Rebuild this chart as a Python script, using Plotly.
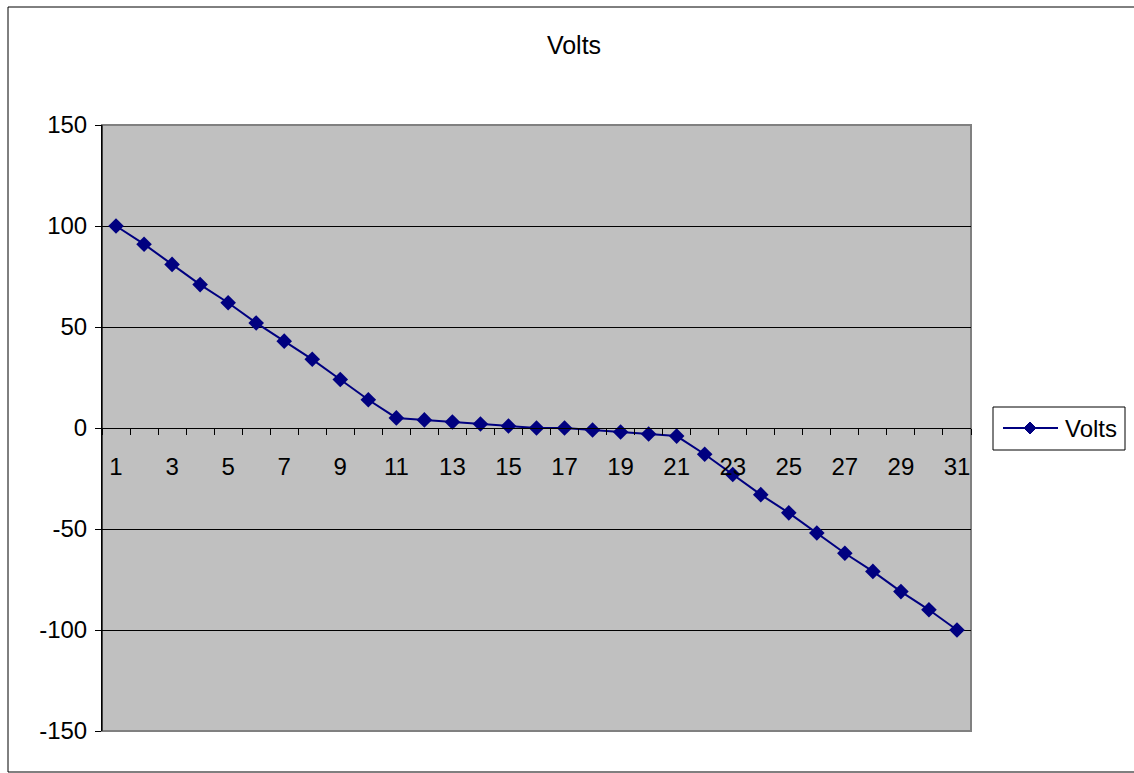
import plotly.graph_objects as go

categories = list(range(1, 32))
volts = [100, 91, 81, 71, 62, 52, 43, 34, 24, 14, 5, 4, 3, 2, 1, 0, 0, -1, -2, -3, -4,
         -13, -23, -33, -42, -52, -62, -71, -81, -90, -100]
x_tick_vals = [c for c in categories if c % 2 == 1]
x_tick_labels = [str(c) for c in x_tick_vals]
y_ticks = [-150, -100, -50, 0, 50, 100, 150]
y_tick_labels = ["-150", "-100", "-50", "0", "50", "100", "150"]
series_name = "Volts"

W, H = 1134, 773
L, R, T, B = 102, 163, 125, 42
pw, ph = W - L - R, H - T - B

FONT = "Liberation Sans, Arial, sans-serif"
NAVY = "#000080"

fig = go.Figure()
fig.add_trace(go.Scatter(
    x=categories, y=volts, mode="lines+markers", name=series_name,
    line=dict(color=NAVY, width=2),
    marker=dict(symbol="diamond", size=12, color=NAVY),
    showlegend=False,
))

def px_x(p):
    return (p - L) / pw

def px_y(p):
    return 1 - (p - T) / ph

# legend drawn in paper coordinates
lx0, lx1, ly0, ly1 = 993, 1125, 407, 450
lcy = 428
dcx, dr = 1030, 6
diamond_path = (f"M {px_x(dcx - dr)} {px_y(lcy)} L {px_x(dcx)} {px_y(lcy - dr)} "
                f"L {px_x(dcx + dr)} {px_y(lcy)} L {px_x(dcx)} {px_y(lcy + dr)} Z")

fig.update_layout(
    width=W, height=H,
    margin=dict(l=L, r=R, t=T, b=B),
    paper_bgcolor="white",
    plot_bgcolor="#C0C0C0",
    font=dict(family=FONT, size=24, color="black"),
    title=dict(text=series_name, x=574 / W, xanchor="center", xref="container",
               y=1 - 45 / H, yanchor="middle", font=dict(size=25)),
    showlegend=False,
    xaxis=dict(
        range=[0.5, 31.5], anchor="free", position=0.5,
        tickmode="array", tickvals=x_tick_vals,
        ticktext=x_tick_labels, ticks="", showgrid=False, zeroline=False,
        showline=True, linecolor="black", linewidth=1,
        minor=dict(tickmode="linear", tick0=0.5, dtick=1, ticks="outside",
                   ticklen=6, tickcolor="black", tickwidth=1, showgrid=False),
        tickfont=dict(size=24), ticklabelstandoff=17,
    ),
    yaxis=dict(
        range=[-150, 150], tickmode="array", tickvals=y_ticks, ticktext=y_tick_labels,
        ticks="outside", ticklen=6,
        tickcolor="black", showgrid=True, gridcolor="black", gridwidth=1,
        zeroline=False, showline=True, linecolor="black", linewidth=1,
        tickfont=dict(size=24), ticklabelstandoff=3,
    ),
    shapes=[
        dict(type="rect", xref="paper", yref="paper", x0=0, x1=1, y0=0, y1=1,
             line=dict(color="#808080", width=2), fillcolor="rgba(0,0,0,0)", layer="below"),
        dict(type="line", xref="paper", yref="paper", x0=0, x1=0, y0=0, y1=1,
             line=dict(color="black", width=1)),
        dict(type="rect", xref="paper", yref="paper", x0=px_x(8), x1=px_x(1140),
             y0=px_y(772), y1=px_y(7), line=dict(color="black", width=1),
             fillcolor="rgba(0,0,0,0)"),
        dict(type="rect", xref="paper", yref="paper", x0=px_x(lx0), x1=px_x(lx1),
             y0=px_y(ly1), y1=px_y(ly0), line=dict(color="black", width=1),
             fillcolor="white"),
        dict(type="line", xref="paper", yref="paper", x0=px_x(1003), x1=px_x(1058),
             y0=px_y(lcy), y1=px_y(lcy), line=dict(color=NAVY, width=2)),
        dict(type="path", xref="paper", yref="paper", path=diamond_path,
             line=dict(color=NAVY, width=1), fillcolor=NAVY),
    ],
    annotations=[
        dict(text=series_name, xref="paper", yref="paper", x=px_x(1063), y=px_y(lcy),
             xanchor="left", yanchor="middle", showarrow=False, font=dict(size=24)),
    ],
)

fig.write_html("out.html", post_script="document.body.style.margin='0';",
               config={"displayModeBar": False})
